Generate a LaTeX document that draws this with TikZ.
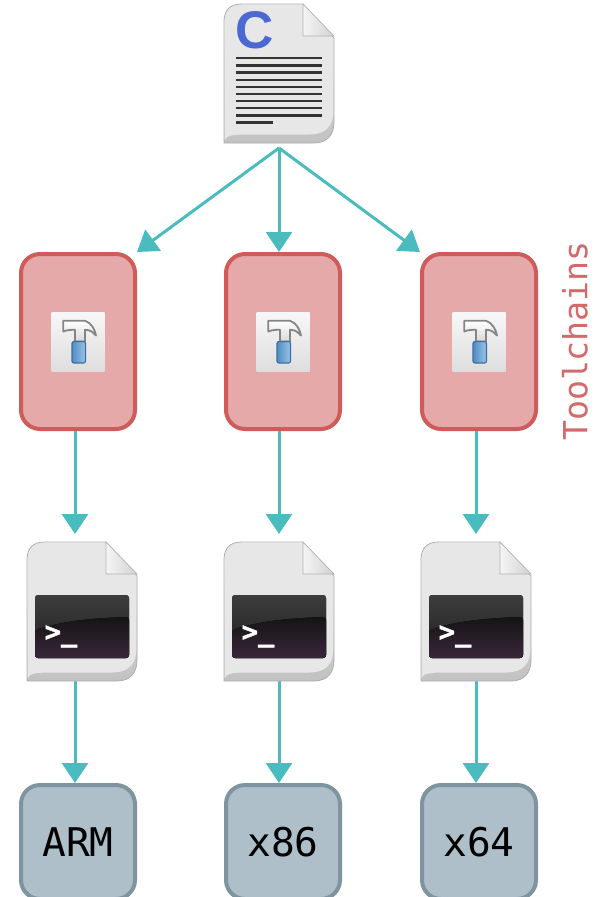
\documentclass[tikz,border=0pt]{standalone}
\usepackage{fontspec}
\setmonofont{DejaVu Sans Mono}
\setsansfont{Liberation Sans}
\newfontfamily\promptfont[FakeBold=1.5]{DejaVu Sans Mono Bold}
\usetikzlibrary{arrows.meta}
\definecolor{flowc}{HTML}{4ABBBE}
\definecolor{toolfill}{HTML}{E6A9A9}
\definecolor{toolline}{HTML}{CF5B5B}
\definecolor{archfill}{HTML}{AEBFCA}
\definecolor{archline}{HTML}{7E959F}
\definecolor{labelc}{HTML}{D4696A}
\definecolor{pagec}{HTML}{E7E7E7}
\definecolor{cblue}{HTML}{4A69D2}
\definecolor{handlea}{HTML}{9CC4E8}
\definecolor{handleb}{HTML}{4F8CC4}
\definecolor{handlec}{HTML}{3D6FA3}
\definecolor{rulec}{HTML}{333333}
\newcommand{\blankdocicon}{%
    \path[draw=black!32,line width=.8pt,top color=black!8,bottom color=black!24]
      (0,139) -- (0,18) .. controls (0,6) and (6,0) .. (18,0) -- (79,0) -- (110,34) -- (110,118)
      .. controls (110,130) and (104,139) .. (90,139) -- cycle;
    \fill[pagec] (.6,136) .. controls (3,131) and (10,130.5) .. (25,130.5) -- (85,130.5)
      .. controls (102,130.5) and (109.4,122) .. (109.4,106) -- (109.4,34.5) -- (78.6,.7) -- (18,.7)
      .. controls (7,.7) and (.6,7) .. (.6,18) -- cycle;
    \path[draw=black!30,line width=.7pt,left color=black!4,right color=black!18]
      (79,0) -- (79,32) -- (110,32) -- cycle;
}
\newcommand{\hammericon}{%
    \path[top color=black!3,bottom color=black!13] (-26.5,-29.5) rectangle (26.5,29.5);
    \path[draw=black!48,line width=1.8pt,line join=round,top color=white,bottom color=black!15]
      (-14.7,-20.7) -- (7,-20.7) .. controls (13,-19) and (17,-12) .. (18,-6)
      .. controls (15,-9) and (13,-11.7) .. (7,-11.7) -- (7,0) -- (-3,0) -- (-3,-11.7) -- (-6.3,-11.7)
      .. controls (-10,-11.7) and (-12,-11) .. (-14.7,-10) -- cycle;
    \path[draw=handlec,line width=1.2pt,rounded corners=2pt,left color=handleb,right color=handlea]
      (-6,0) rectangle (7.5,21.5);
}
\tikzset{
  flow/.style={draw=flowc,line width=3pt,-{Triangle[length=20pt,width=26pt]}},
  toolbox/.style={draw=toolline,fill=toolfill,line width=4pt,rounded corners=19pt,minimum width=114pt,minimum height=175pt,outer sep=2pt,inner sep=0pt},
  archbox/.style={draw=archline,fill=archfill,line width=4pt,rounded corners=19pt,minimum width=114pt,minimum height=114pt,outer sep=2pt,inner sep=0pt,font=\ttfamily\fontsize{39.5}{39.5}\selectfont},
  docspot/.style={minimum width=110pt,inner sep=0pt,outer sep=0pt}
}
\begin{document}
\begin{tikzpicture}[x=1pt,y=-1pt]
\useasboundingbox (0,0) rectangle (598,897);
\node[docspot,minimum height=144pt] (src) at (279,76) {};
\node[toolbox] (tc1) at (78,341.5) {};
\node[toolbox] (tc2) at (283,341.5) {};
\node[toolbox] (tc3) at (479,341.5) {};
\node[docspot,minimum height=146pt] (exe1) at (82,607) {};
\node[docspot,minimum height=146pt] (exe2) at (279,607) {};
\node[docspot,minimum height=146pt] (exe3) at (476,607) {};
\node[archbox] (arm) at (78,842) {ARM};
\node[archbox] (x86) at (283,842) {x86};
\node[archbox] (x64) at (479,842) {x64};
\node[rotate=90,text=labelc,font=\ttfamily\fontsize{33.2}{33.2}\selectfont,inner sep=0pt] (lab) at (575,341) {Toolchains};
% connectors
\draw[flow] (src.south) -- (tc1.north east);
\draw[flow] (src.south) -- (tc2.north -| src.south);
\draw[flow] (src.south) -- (tc3.north west);
\draw[flow] ([xshift=-3pt]tc1.south) -- ([xshift=-7pt]exe1.north);
\draw[flow] ([xshift=-4pt]tc2.south) -- (exe2.north);
\draw[flow] ([xshift=-3pt]tc3.south) -- (exe3.north);
\draw[flow] ([xshift=-7pt]exe1.south) -- ([xshift=-3pt]arm.north);
\draw[flow] (exe2.south) -- ([xshift=-4pt]x86.north);
\draw[flow] (exe3.south) -- ([xshift=-3pt]x64.north);
% hammer icons
\begin{scope}[shift={(tc1.center)}]\hammericon\end{scope}
\begin{scope}[shift={(tc2.center)}]\hammericon\end{scope}
\begin{scope}[shift={(tc3.center)}]\hammericon\end{scope}
% source document icon
\begin{scope}[shift={(224,4)}]\blankdocicon\end{scope}
\foreach \i in {0,...,8}
  \draw[rulec,line width=2.3pt] (236,{58.3+7.14*\i}) -- (322,{58.3+7.14*\i});
\draw[rulec,line width=2.3pt] (236,122.6) -- (273,122.6);
\node[font=\sffamily\bfseries\fontsize{53}{53}\selectfont,text=cblue,inner sep=0pt] (clet) at (254.5,30.5) {C};
% executable icons
\foreach \ox/\nm in {27/a,224/b,421/c}{
  \begin{scope}[shift={(\ox,542)}]\blankdocicon\end{scope}
  \fill[rounded corners=3pt,top color=black!76,bottom color=black!88] (\ox+8,595) rectangle (\ox+102,658);
  \fill[rounded corners=3pt,top color=black!92,bottom color=violet!18!black!85] (\ox+8,630) .. controls (\ox+40,620) and (\ox+70,618) .. (\ox+102,617) -- (\ox+102,658) -- (\ox+8,658) -- cycle;
  \node[anchor=base,text=white,font=\promptfont\fontsize{27}{27}\selectfont,inner sep=0pt] (prompt\nm) at (\ox+34,641) {>\_};
}
\end{tikzpicture}
\end{document}
